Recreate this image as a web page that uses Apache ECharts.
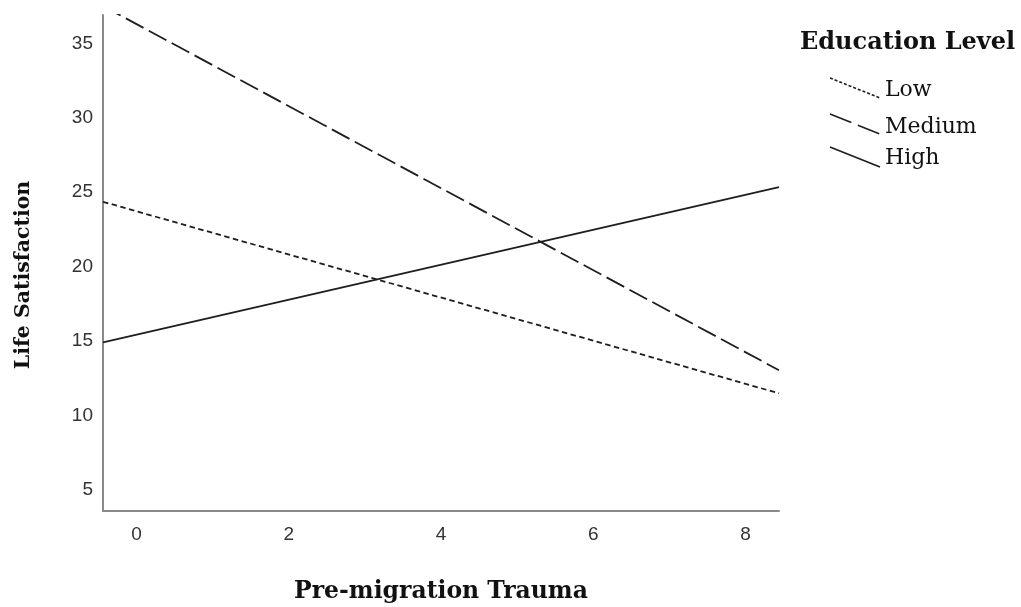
<!DOCTYPE html>
<html>
<head>
<meta charset="utf-8">
<script src="https://cdn.jsdelivr.net/npm/echarts@6/dist/echarts.min.js"></script>
<style>html,body{margin:0;padding:0;background:#fff;}#c{width:1021px;height:607px;}</style>
</head>
<body>
<div id="c"></div>
<script>
const seriesNames = ['Low', 'Medium', 'High'];
const xEnds = [-0.44, 8.44];
const lowValues = [24.36, 11.5];
const mediumValues = [37.5, 13.05];
const highValues = [14.92, 25.35];
const xTicks = [0, 2, 4, 6, 8];
const yTicks = [5, 10, 15, 20, 25, 30, 35];
const xRange = [-0.44, 8.44];
const yRange = [3.6, 36.9];
const xTitle = 'Pre-migration Trauma';
const yTitle = 'Life Satisfaction';
const legendTitle = 'Education Level';

const dashStyles = [[5.5, 3.5], [20, 6], 'solid'];
const legendDashes = [[3, 2], [23, 7], null];
const allValues = [lowValues, mediumValues, highValues];

const chart = echarts.init(document.getElementById('c'), null, {renderer: 'canvas'});
const series = seriesNames.map((n, i) => ({
  name: n,
  type: 'line',
  data: xEnds.map((x, j) => [x, allValues[i][j]]),
  showSymbol: false,
  symbol: 'none',
  clip: true,
  lineStyle: {color: '#1e1e1e', width: 1.8, type: dashStyles[i]}
}));

const graphics = [
  {type: 'text', x: 800, y: 43,
   style: {text: legendTitle, font: 'bold 24px "DejaVu Serif"', fill: '#111', textVerticalAlign: 'middle'}},
  {type: 'text', x: 441, y: 592,
   style: {text: xTitle, font: 'bold 23.5px "DejaVu Serif"', fill: '#111', textAlign: 'center', textVerticalAlign: 'middle'}},
  {type: 'text', x: 24, y: 275, rotation: Math.PI / 2,
   style: {text: yTitle, font: 'bold 20.5px "DejaVu Serif"', fill: '#111', textAlign: 'center', textVerticalAlign: 'middle'}}
];
seriesNames.forEach((n, i) => {
  const y0 = [78, 114, 147][i];
  graphics.push({
    type: 'line',
    shape: {x1: 830, y1: y0, x2: 880, y2: y0 + 20},
    style: {stroke: '#1e1e1e', lineWidth: 1.6, lineDash: legendDashes[i]}
  });
  graphics.push({
    type: 'text', x: 885, y: [90, 127, 158][i],
    style: {text: n, font: '22px "DejaVu Serif"', fill: '#111', textVerticalAlign: 'middle'}
  });
});

chart.setOption({
  animation: false,
  backgroundColor: '#fff',
  grid: {left: 103, top: 15, width: 676, height: 496, containLabel: false, outerBoundsMode: 'none'},
  xAxis: {
    type: 'value', min: xRange[0], max: xRange[1],
    axisLine: {show: true, onZero: false, lineStyle: {color: '#8a8a8a', width: 2}},
    axisTick: {show: false},
    splitLine: {show: false},
    axisLabel: {customValues: xTicks, color: '#333', fontSize: 19, fontFamily: 'Liberation Sans', margin: 14}
  },
  yAxis: {
    type: 'value', min: yRange[0], max: yRange[1],
    axisLine: {show: true, onZero: false, lineStyle: {color: '#8a8a8a', width: 2}},
    axisTick: {show: false},
    splitLine: {show: false},
    axisLabel: {customValues: yTicks, color: '#333', fontSize: 19, fontFamily: 'Liberation Sans', margin: 10}
  },
  series: series,
  graphic: graphics
});
</script>
</body>
</html>
